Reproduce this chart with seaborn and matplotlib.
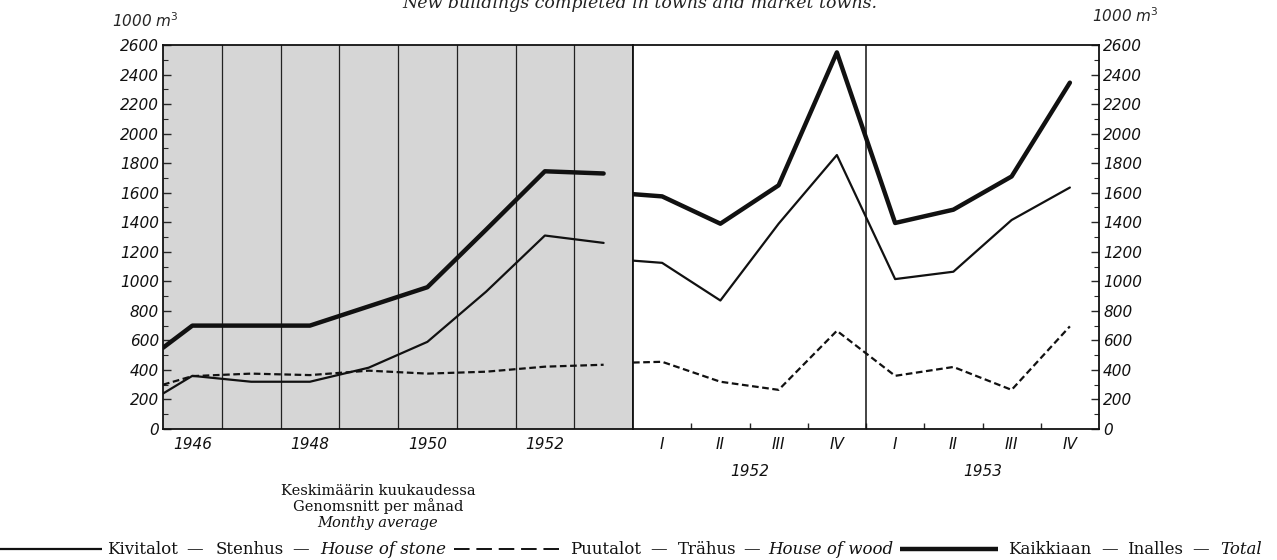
import matplotlib
matplotlib.use("Agg")

import matplotlib.pyplot as plt
from matplotlib.lines import Line2D
import numpy as np
import pandas as pd
import seaborn as sns

# Annual averages (left panel), first value is where the lines start at the axis edge
years = [1945.5, 1946, 1947, 1948, 1949, 1950, 1951, 1952, 1953]
stone_year = [240, 360, 320, 320, 415, 590, 930, 1310, 1260]
wood_year = [300, 358, 375, 365, 395, 375, 388, 422, 435]
total_year = [550, 700, 700, 700, 830, 960, 1350, 1745, 1730]

# Quarterly values 1952-1953 (right panel), first value at the panel edge
quarters = [0.5, 1, 2, 3, 4, 5, 6, 7, 8]
quarter_labels = ['I', 'II', 'III', 'IV', 'I', 'II', 'III', 'IV']
stone_q = [1140, 1125, 870, 1390, 1855, 1015, 1065, 1415, 1635]
wood_q = [450, 455, 320, 265, 665, 360, 420, 265, 695]
total_q = [1590, 1575, 1390, 1650, 2550, 1395, 1485, 1710, 2345]

left = pd.DataFrame({'x': years, 'stone': stone_year, 'wood': wood_year, 'total': total_year})
right = pd.DataFrame({'x': quarters, 'stone': stone_q, 'wood': wood_q, 'total': total_q})

sns.set_style("ticks")
plt.rcParams['font.family'] = ['DejaVu Sans']

W, H = 1277, 560
fig = plt.figure(figsize=(W / 100, H / 100), dpi=100)
fig.patch.set_facecolor('white')

ax1 = fig.add_axes([163 / W, 1 - 429 / H, 470 / W, 384 / H])
ax2 = fig.add_axes([633 / W, 1 - 429 / H, 466 / W, 384 / H])

tick_font = dict(fontstyle='italic', fontsize=11, color='#111111')


def draw_lines(ax, df):
    sns.lineplot(data=df, x='x', y='total', ax=ax, color='#111111', lw=3.2, sort=False)
    sns.lineplot(data=df, x='x', y='stone', ax=ax, color='#111111', lw=1.6, sort=False)
    sns.lineplot(data=df, x='x', y='wood', ax=ax, color='#111111', lw=1.6, sort=False,
                 dashes=False, linestyle=(0, (3, 1.6)))
    ax.set_ylim(0, 2600)
    ax.set_yticks(np.arange(0, 2601, 200))
    ax.set_yticks(np.arange(0, 2601, 100), minor=True)
    ax.set_xlabel('')
    ax.set_ylabel('')
    for s in ax.spines.values():
        s.set_visible(True)
        s.set_linewidth(1.3)
        s.set_color('#111111')


# left panel: yearly, stippled grey background
ax1.set_facecolor('#d6d6d6')
draw_lines(ax1, left)
ax1.set_xlim(1945.5, 1953.5)
ax1.set_xticks([1946, 1948, 1950, 1952])
ax1.set_xticklabels(['1946', '1948', '1950', '1952'], **tick_font)
ax1.set_xticks(np.arange(1946.5, 1953.5, 1), minor=True)
ax1.grid(which='minor', axis='x', color='#222222', lw=0.9)
ax1.tick_params(axis='x', which='both', length=0, pad=6)
ax1.tick_params(axis='y', which='major', direction='in', length=6, pad=3, width=1)
ax1.tick_params(axis='y', which='minor', direction='in', length=3.5, width=0.8)
ax1.set_yticklabels([str(v) for v in range(0, 2601, 200)], **tick_font)

# right panel: quarterly
ax2.set_facecolor('white')
draw_lines(ax2, right)
ax2.set_xlim(0.5, 8.5)
ax2.set_xticks(range(1, 9))
ax2.set_xticklabels(quarter_labels, **tick_font)
ax2.set_xticks(np.arange(1.5, 8.5, 1), minor=True)
ax2.tick_params(axis='x', which='major', length=0, pad=6)
ax2.tick_params(axis='x', which='minor', direction='in', length=4.5, width=1)
ax2.axvline(4.5, color='#111111', lw=1.1)
ax2.yaxis.tick_right()
ax2.tick_params(axis='y', which='major', direction='in', length=6, pad=3, width=1)
ax2.tick_params(axis='y', which='minor', direction='in', length=3.5, width=0.8)
ax2.set_yticklabels([str(v) for v in range(0, 2601, 200)], **tick_font)
ax2.text(2.5, -0.11, '1952', transform=ax2.get_xaxis_transform(), ha='center', va='center', **tick_font)
ax2.text(6.5, -0.11, '1953', transform=ax2.get_xaxis_transform(), ha='center', va='center', **tick_font)

# unit labels
fig.text(112 / W, 1 - 27 / H, '1000 m$^3$', fontstyle='italic', fontsize=11, va='baseline')
fig.text(1092 / W, 1 - 22 / H, '1000 m$^3$', fontstyle='italic', fontsize=11, va='baseline')

# title (cut at the top edge of the scan, as in the original)
fig.text(640 / W, 1 - 8 / H, 'New buildings completed in towns and market towns.',
         family='DejaVu Serif', fontstyle='italic', fontsize=12.5, ha='center', va='baseline', color='#222222')

serif = dict(family='DejaVu Serif', fontsize=10.5, color='#111111')
fig.text(378 / W, 1 - 495 / H, 'Keskimäärin kuukaudessa', ha='center', va='baseline', **serif)
fig.text(378 / W, 1 - 511 / H, 'Genomsnitt per månad', ha='center', va='baseline', **serif)
fig.text(378 / W, 1 - 527 / H, 'Monthy average', ha='center', va='baseline', fontstyle='italic', **serif)

# legend row, placed piece by piece like the printed key
ly = 1 - 554 / H
leg_font = dict(family='DejaVu Serif', fontsize=12, color='#111111')
pieces = [(107, 'Kivitalot', 'normal'), (186, '—', 'normal'), (216, 'Stenhus', 'normal'),
          (292, '—', 'normal'), (320, 'House of stone', 'italic'),
          (570, 'Puutalot', 'normal'), (650, '—', 'normal'), (678, 'Trähus', 'normal'),
          (743, '—', 'normal'), (768, 'House of wood', 'italic'),
          (1008, 'Kaikkiaan', 'normal'), (1101, '—', 'normal'), (1127, 'Inalles', 'normal'),
          (1192, '—', 'normal'), (1220, 'Total', 'italic')]
for px, s, st in pieces:
    fig.text(px / W, ly, s, va='baseline', fontstyle=st, **leg_font)


def sample(x0, x1, lw, ls='-'):
    fig.add_artist(Line2D([x0 / W, x1 / W], [ly + 5 / H, ly + 5 / H], transform=fig.transFigure,
                          color='#111111', lw=lw, linestyle=ls, solid_capstyle='butt', dash_capstyle='butt'))


sample(0, 102, 1.6)
sample(454, 562, 1.4, (0, (8, 3.5)))
sample(900, 998, 3.2)

fig.savefig('out.png', dpi=100)
